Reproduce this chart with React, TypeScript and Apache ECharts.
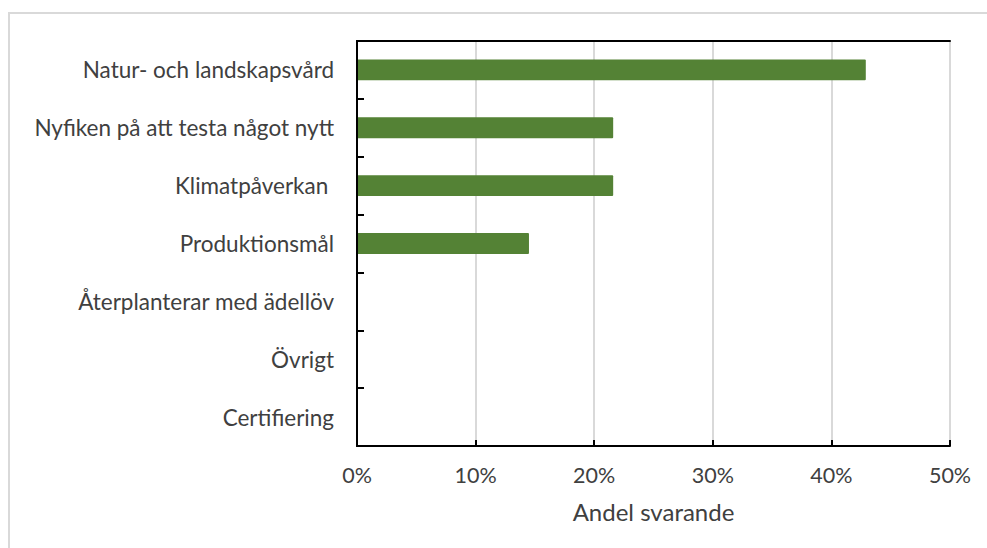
import React, { useEffect, useRef } from "react";
import * as echarts from "echarts";

const categories = [
  "Natur- och landskapsvård",
  "Nyfiken på att testa något nytt",
  "Klimatpåverkan ",
  "Produktionsmål",
  "Återplanterar med ädellöv",
  "Övrigt",
  "Certifiering",
];
const values = [42.9, 21.6, 21.6, 14.5, 0, 0, 0];
const xTicks = [0, 10, 20, 30, 40, 50];
const axisTitle = "Andel svarande";

export default function App() {
  const ref = useRef<HTMLDivElement>(null);
  useEffect(() => {
    if (!ref.current) return;
    const chart = echarts.init(ref.current, null, { renderer: "svg" });
    const font = "Lato, 'Open Sans', sans-serif";
    const min = xTicks[0];
    const max = xTicks[xTicks.length - 1];
    chart.setOption({
      animation: false,
      backgroundColor: "#ffffff",
      graphic: [
        {
          type: "rect",
          shape: { x: 9, y: 13, width: 990, height: 560 },
          style: { fill: "none", stroke: "#d9d9d9", lineWidth: 2 },
          silent: true,
          z: -10,
        },
      ],
      grid: {
        left: 357,
        right: 37,
        top: 41,
        bottom: 102,
        containLabel: false,
      },
      xAxis: [
        {
          type: "value",
          min,
          max,
          interval: 10,
          name: axisTitle,
          nameLocation: "middle",
          nameGap: 53,
          nameTextStyle: { color: "#404040", fontSize: 24, fontFamily: font },
          axisLine: { show: true, lineStyle: { color: "#000", width: 2 } },
          axisTick: { show: true, inside: true, length: 6, lineStyle: { color: "#000", width: 2 } },
          axisLabel: {
            formatter: (v: number) => `${v}%`,
            color: "#404040",
            fontSize: 21.5,
            fontFamily: font,
            margin: 18,
          },
          splitLine: { show: true, lineStyle: { color: "#d9d9d9", width: 2 } },
        },
        {
          type: "value",
          position: "top",
          min,
          max,
          interval: 10,
          axisLine: { show: true, lineStyle: { color: "#000", width: 2 } },
          axisTick: { show: false },
          axisLabel: { show: false },
          splitLine: { show: false },
          z: 5,
        },
      ],
      yAxis: [
        {
          type: "category",
          inverse: true,
          data: categories,
          axisLine: { show: true, lineStyle: { color: "#000", width: 2 } },
          axisTick: { show: true, inside: true, length: 7, lineStyle: { color: "#000", width: 2 } },
          axisLabel: {
            color: "#404040",
            fontSize: 22.5,
            fontFamily: font,
            margin: 23,
          },
          splitLine: { show: false },
          z: 5,
        },
        {
          type: "category",
          position: "right",
          inverse: true,
          data: categories,
          axisLine: { show: true, lineStyle: { color: "#000", width: 2 } },
          axisTick: { show: false },
          axisLabel: { show: false },
          splitLine: { show: false },
          z: 5,
        },
      ],
      series: [
        {
          type: "bar",
          data: values,
          xAxisIndex: 0,
          yAxisIndex: 0,
          barWidth: "36%",
          z: 3,
          itemStyle: { color: "#548235", borderRadius: 1 },
        },
      ],
    });
    return () => chart.dispose();
  }, []);
  return (
    <div
      ref={ref}
      style={{ position: "fixed", left: 0, top: 0, width: 987, height: 548 }}
    />
  );
}
